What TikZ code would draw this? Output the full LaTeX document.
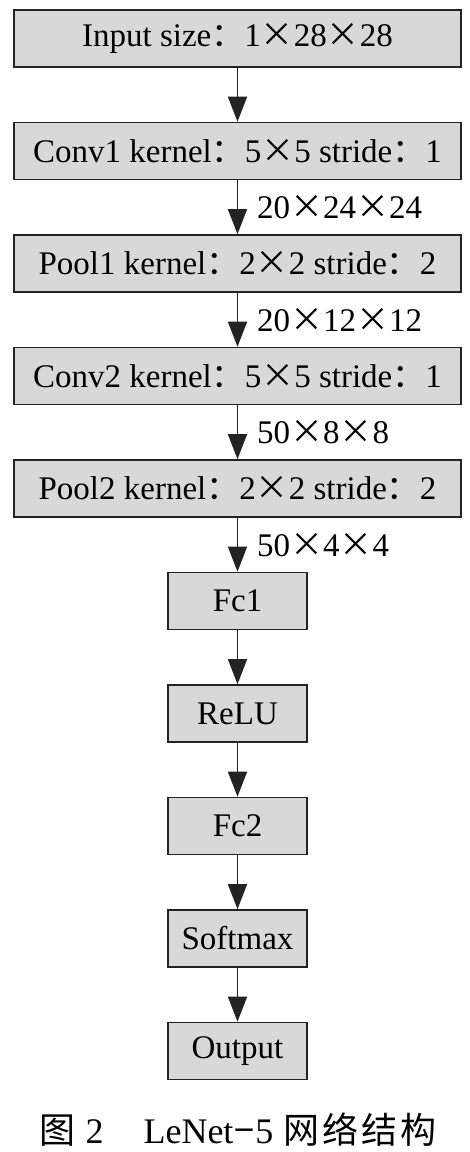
\documentclass[tikz,border=0pt]{standalone}
\usepackage{fontspec}
\setmainfont{Liberation Serif}
\newfontfamily\cjk{Noto Sans CJK SC}
\usetikzlibrary{arrows.meta}
\newcommand{\X}{{\cjk ×}}
\newcommand{\C}{{\cjk ：}}
\definecolor{boxgray}{RGB}{216,216,216}
\definecolor{edgegray}{RGB}{35,35,35}
\tikzset{
  wide/.style={draw=edgegray, line width=1.6pt, fill=boxgray, minimum width=447pt, minimum height=57pt, inner sep=0pt, font=\fontsize{33}{37}\selectfont},
  small/.style={draw=edgegray, line width=1.6pt, fill=boxgray, minimum width=139pt, minimum height=57pt, inner sep=0pt, font=\fontsize{33}{37}\selectfont},
  arr/.style={line width=1.5pt, draw=edgegray, -{Triangle[width=19pt,length=25pt]}, shorten >=0pt},
  dim/.style={anchor=west, inner sep=0pt, font=\fontsize{33}{37}\selectfont}
}
\begin{document}
\begin{tikzpicture}[x=1pt,y=-1pt]
\useasboundingbox (0,0) rectangle (470,1152);
\fill[white] (0,0) rectangle (470,1152);
\node[wide] (in) at (237.5,38.5) {Input size\C 1\X 28\X 28};
\node[wide] (c1) at (237.5,151) {Conv1 kernel\C 5\X 5 stride\C 1};
\node[wide] (p1) at (237.5,263.5) {Pool1 kernel\C 2\X 2 stride\C 2};
\node[wide] (c2) at (237.5,376) {Conv2 kernel\C 5\X 5 stride\C 1};
\node[wide] (p2) at (237.5,488.5) {Pool2 kernel\C 2\X 2 stride\C 2};
\node[small] (f1) at (237.5,601) {Fc1};
\node[small] (re) at (237.5,713.5) {ReLU};
\node[small] (f2) at (237.5,826) {Fc2};
\node[small] (sm) at (237.5,938.5) {Softmax};
\node[small] (out) at (237.5,1051) {Output};
\draw[arr] (in) -- (c1);
\draw[arr] (c1) -- (p1);
\draw[arr] (p1) -- (c2);
\draw[arr] (c2) -- (p2);
\draw[arr] (p2) -- (f1);
\draw[arr] (f1) -- (re);
\draw[arr] (re) -- (f2);
\draw[arr] (f2) -- (sm);
\draw[arr] (sm) -- (out);
\node[dim] (d1) at (257,207) {20\X 24\X 24};
\node[dim] (d2) at (257,320) {20\X 12\X 12};
\node[dim] (d3) at (257,432) {50\X 8\X 8};
\node[dim] (d4) at (257,545) {50\X 4\X 4};
\node[font=\fontsize{36}{40}\selectfont, inner sep=0pt] (cap) at (238,1130) {{\cjk 图}\hspace{10pt}2\hspace{40pt}LeNet\hspace{1pt}{\cjk −}\hspace{1pt}5\hspace{10pt}{\cjk 网\hspace{3pt}络\hspace{3pt}结\hspace{3pt}构}};
\end{tikzpicture}
\end{document}
